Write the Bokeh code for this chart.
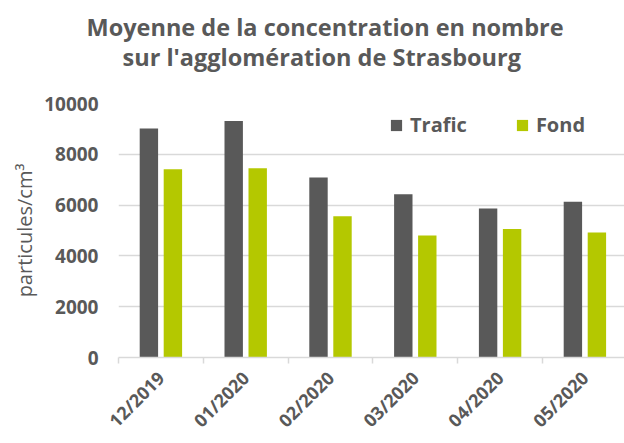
import numpy as np
from bokeh.plotting import figure
from bokeh.layouts import row
from bokeh.models import Range1d, FixedTicker, Title, ColumnDataSource, Spacer
from bokeh.embed import file_html
from bokeh.resources import INLINE

months = ["12/2019", "01/2020", "02/2020", "03/2020", "04/2020", "05/2020"]
trafic = [9020, 9310, 7090, 6430, 5870, 6130]
fond = [7410, 7450, 5560, 4800, 5060, 4920]
y_ticks = [0, 2000, 4000, 6000, 8000, 10000]

GRAY = "#595959"
GREEN = "#b4c800"
GRID = "#d9d9d9"
FONT = "Open Sans"

centers = np.arange(len(months)) + 0.5
off = 0.1415
bw = 0.217

p = figure(width=618, height=443, output_backend="svg", toolbar_location=None,
           x_range=Range1d(0, 5.967), y_range=Range1d(0, 10000),
           min_border_left=112, min_border_right=0, min_border_top=103,
           min_border_bottom=85)
p.outline_line_color = None
p.background_fill_color = "white"
p.border_fill_color = "white"

src = ColumnDataSource(dict(xt=centers - off, xf=centers + off,
                            trafic=trafic, fond=fond))
p.vbar(x="xt", top="trafic", width=bw, source=src, fill_color=GRAY, line_color=None,
       legend_label="Trafic")
p.vbar(x="xf", top="fond", width=bw, source=src, fill_color=GREEN, line_color=None,
       legend_label="Fond")

# y axis
p.yaxis.ticker = FixedTicker(ticks=y_ticks)
p.yaxis.axis_line_color = None
p.yaxis.major_tick_line_color = None
p.yaxis.minor_tick_line_color = None
p.yaxis.major_label_standoff = 14
p.yaxis.major_label_text_font = FONT
p.yaxis.major_label_text_font_style = "bold"
p.yaxis.major_label_text_font_size = "19px"
p.yaxis.major_label_text_color = GRAY
p.yaxis.axis_label = "particules/cm³"
p.yaxis.axis_label_text_font = FONT
p.yaxis.axis_label_text_font_style = "normal"
p.yaxis.axis_label_text_font_size = "20px"
p.yaxis.axis_label_text_color = GRAY
p.yaxis.axis_label_standoff = 3

p.ygrid.ticker = FixedTicker(ticks=y_ticks)
p.ygrid.grid_line_color = GRID
p.ygrid.grid_line_width = 1.5
p.xgrid.grid_line_color = None

# x axis: ticks between categories, labels at category centres
p.xaxis.ticker = FixedTicker(ticks=list(centers), minor_ticks=list(range(len(months) + 1)))
p.xaxis.major_label_overrides = {float(c): m for c, m in zip(centers, months)}
p.xaxis.major_tick_line_color = None
p.xaxis.minor_tick_line_color = GRID
p.xaxis.minor_tick_line_width = 1.5
p.xaxis.minor_tick_out = 6
p.xaxis.minor_tick_in = 0
p.xaxis.axis_line_color = GRID
p.xaxis.axis_line_width = 1.5
p.xaxis.major_label_orientation = np.pi / 4
p.xaxis.major_label_standoff = 11
p.xaxis.major_label_text_font = FONT
p.xaxis.major_label_text_font_style = "bold"
p.xaxis.major_label_text_font_size = "18px"
p.xaxis.major_label_text_color = GRAY

# legend
lg = p.legend[0]
lg.orientation = "horizontal"
lg.location = (271, 219)
lg.border_line_color = None
lg.background_fill_alpha = 0
lg.padding = 0
lg.margin = 0
lg.spacing = 48
lg.glyph_width = 14
lg.glyph_height = 14
lg.label_standoff = 7
lg.label_text_font = FONT
lg.label_text_font_style = "bold"
lg.label_text_font_size = "20px"
lg.label_text_color = GRAY

# titles
t2 = Title(text="sur l'agglomération de Strasbourg", align="left", offset=4,
           text_font=FONT, text_font_style="bold", text_font_size="23.5px",
           text_color=GRAY, standoff=62)
t1 = Title(text="Moyenne de la concentration en nombre", align="left", offset=-32,
           text_font=FONT, text_font_style="bold", text_font_size="23.5px",
           text_color=GRAY, standoff=-70)
p.add_layout(t2, "above")
p.add_layout(t1, "above")

layout = row(Spacer(width=6, height=443), p)
open("out.html", "w").write(file_html(layout, INLINE))
